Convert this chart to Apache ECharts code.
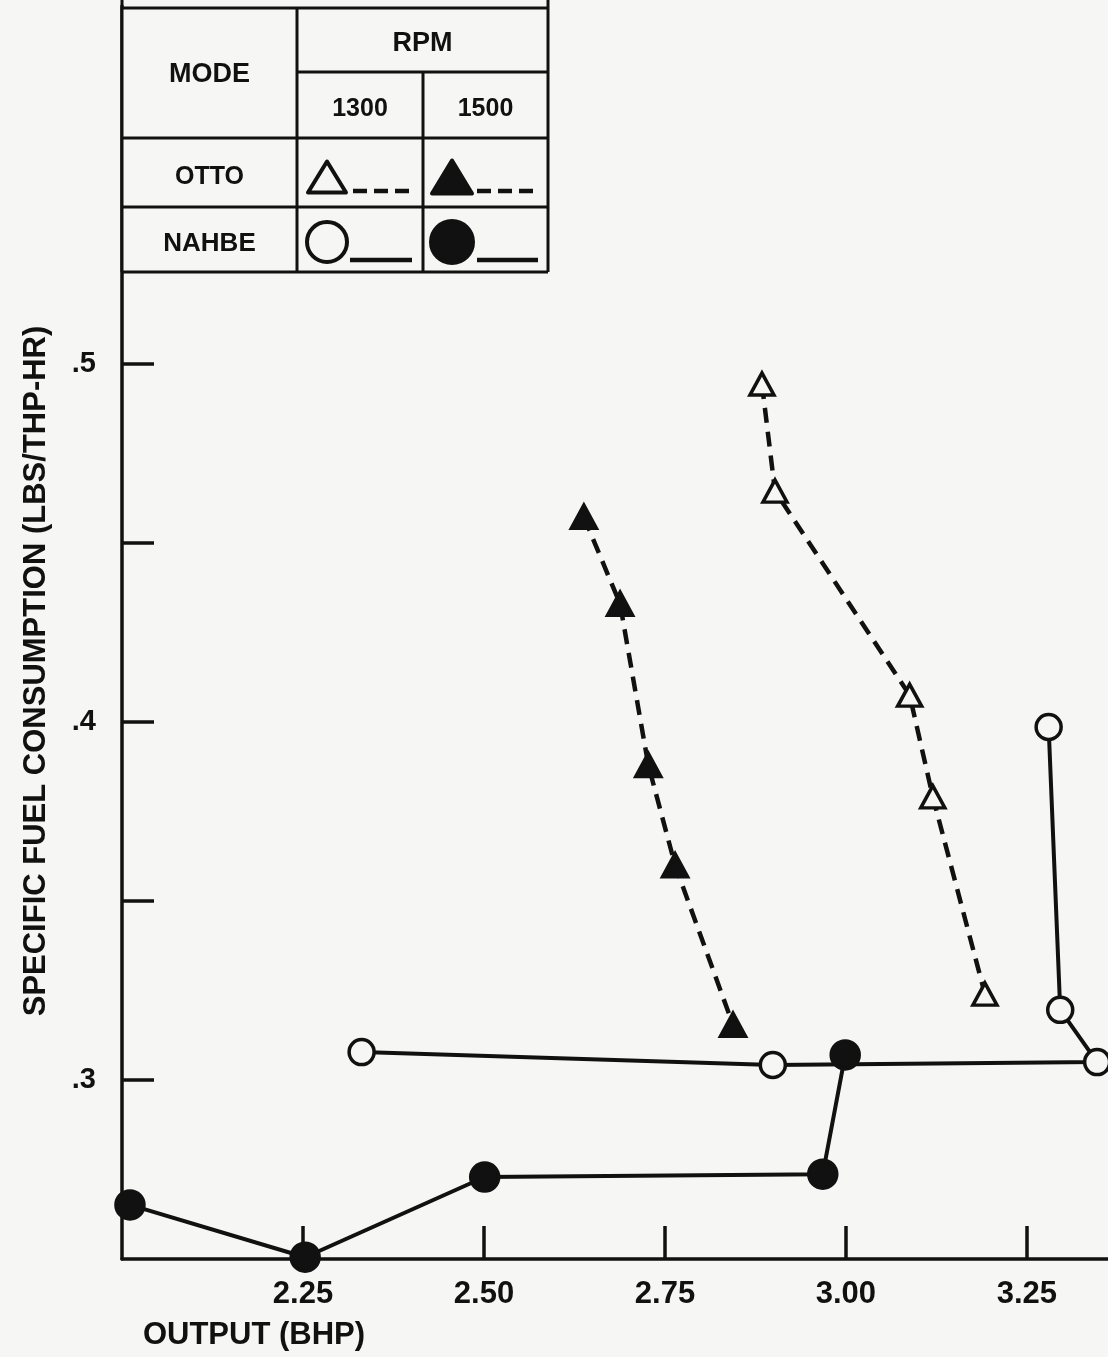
<!DOCTYPE html>
<html>
<head>
<meta charset="utf-8">
<script src="https://cdn.jsdelivr.net/npm/echarts@6/dist/echarts.min.js"></script>
<style>
  html, body { margin: 0; padding: 0; background: #f6f6f4; }
  #chart { width: 1108px; height: 1357px; }
</style>
</head>
<body>
<div id="chart"></div>
<script>
// ---- Data ----
const otto1300X = [2.884, 2.902, 3.088, 3.120, 3.192];
const otto1300Y = [0.4944, 0.4645, 0.4075, 0.3791, 0.3240];

const otto1500X = [2.638, 2.688, 2.727, 2.764, 2.844];
const otto1500Y = [0.4573, 0.4330, 0.3880, 0.3600, 0.3154];

const nahbe1300X = [2.331, 2.899, 3.347, 3.296, 3.280];
const nahbe1300Y = [0.3078, 0.3042, 0.3050, 0.3196, 0.3986];

const nahbe1500X = [2.011, 2.253, 2.501, 2.968, 2.999];
const nahbe1500Y = [0.2651, 0.2505, 0.2729, 0.2737, 0.3070];

const xTickValues = [2.25, 2.50, 2.75, 3.00, 3.25];
const xTickLabels = ['2.25', '2.50', '2.75', '3.00', '3.25'];
const yTickValues = [0.30, 0.35, 0.40, 0.45, 0.50];
const yLabelValues = [0.3, 0.4, 0.5];
const yTickLabels = ['.3', '.4', '.5'];

const xTitle = 'OUTPUT (BHP)';
const yTitle = 'SPECIFIC FUEL CONSUMPTION (LBS/THP-HR)';

const legendModeHeader = 'MODE';
const legendRpmHeader = 'RPM';
const legendRpms = ['1300', '1500'];
const legendModes = ['OTTO', 'NAHBE'];

// ---- helpers ----
const zip = (xs, ys) => xs.map((x, i) => [x, ys[i]]);
const INK = '#111111';
const BG = '#f6f6f4';
const FONT = '"Liberation Sans", Arial, Helvetica, sans-serif';

const chart = echarts.init(document.getElementById('chart'), null, { renderer: 'canvas' });

// Legend table geometry
const L = 122, C1 = 297, C2 = 423, R = 548;
const T = 8, H1 = 72, H2 = 138, H3 = 207, B = 272;
const lineEl = (x1, y1, x2, y2) => ({
  type: 'line', shape: { x1, y1, x2, y2 },
  style: { stroke: INK, lineWidth: 3 }, z: 101, silent: true
});
const textEl = (x, y, text, size) => ({
  type: 'text', x, y, z: 102, silent: true,
  style: { text, fill: INK, font: 'bold ' + size + 'px ' + FONT, textAlign: 'center', textVerticalAlign: 'middle' }
});
const tri = (cx, cy, w, h, filled) => ({
  type: 'polygon', z: 102, silent: true,
  shape: { points: [[cx, cy - h / 2], [cx + w / 2, cy + h / 2], [cx - w / 2, cy + h / 2]] },
  style: { fill: filled ? INK : BG, stroke: INK, lineWidth: 4, lineJoin: 'round' }
});
const circ = (cx, cy, r, filled) => ({
  type: 'circle', z: 102, silent: true, shape: { cx, cy, r },
  style: { fill: filled ? INK : BG, stroke: INK, lineWidth: 4 }
});
const seg = (x1, x2, y, dashed) => ({
  type: 'line', z: 102, silent: true, shape: { x1, y1: y, x2, y2: y },
  style: { stroke: INK, lineWidth: 4.5, lineDash: dashed ? [14, 7] : null }
});

const graphic = [
  { type: 'rect', shape: { x: L, y: T, width: R - L, height: B - T }, style: { fill: BG }, z: 100, silent: true },
  lineEl(L, 0, L, B), lineEl(R, 0, R, B),
  lineEl(L, T, R, T), lineEl(L, B, R, B),
  lineEl(C1, T, C1, B), lineEl(C1, H1, R, H1), lineEl(C2, H1, C2, B),
  lineEl(L, H2, R, H2), lineEl(L, H3, R, H3),
  textEl((L + C1) / 2, 75, legendModeHeader, 27),
  textEl((C1 + R) / 2, 44, legendRpmHeader, 27),
  textEl((C1 + C2) / 2, 109, legendRpms[0], 25),
  textEl((C2 + R) / 2, 109, legendRpms[1], 25),
  textEl((L + C1) / 2, 177, legendModes[0], 25),
  textEl((L + C1) / 2, 244, legendModes[1], 26),
  tri(327, 177, 38, 31, false), seg(353, 413, 191, true),
  tri(452, 177, 40, 33, true), seg(477, 538, 191, true),
  circ(327, 242, 20, false), seg(350, 412, 260, false),
  circ(452, 242, 21, true), seg(477, 538, 260, false),
  // axis titles
  { type: 'text', x: 36, y: 671, rotation: Math.PI / 2, z: 50, silent: true,
    style: { text: yTitle, fill: INK, font: 'bold 31px ' + FONT, textAlign: 'center', textVerticalAlign: 'middle' } },
  { type: 'text', x: 254, y: 1335, z: 50, silent: true,
    style: { text: xTitle, fill: INK, font: 'bold 31px ' + FONT, textAlign: 'center', textVerticalAlign: 'middle' } }
];

const baseSeries = (name, data, dashed, symbol, size, filled) => ({
  name, type: 'line', data, showAllSymbol: true, symbol, symbolSize: size,
  clip: true, silent: true,
  lineStyle: { color: INK, width: dashed ? 4.5 : 4, type: dashed ? [15, 9] : 'solid' },
  itemStyle: { color: filled ? INK : BG, borderColor: INK, borderWidth: 3.5 },
  emphasis: { disabled: true }
});

chart.setOption({
  backgroundColor: BG,
  animation: false,
  textStyle: { fontFamily: FONT },
  grid: { left: 122, top: 6, right: 0, bottom: 98, containLabel: false, outerBoundsMode: 'none' },
  xAxis: {
    type: 'value', min: 2.0, max: 3.362,
    axisLine: { show: true, lineStyle: { color: INK, width: 3.5 } },
    axisTick: { show: true, inside: true, length: 33, lineStyle: { color: INK, width: 3.5 }, customValues: xTickValues },
    axisLabel: { show: true, customValues: xTickValues, margin: 20, color: INK, fontSize: 31, fontWeight: 'bold', fontFamily: FONT,
      formatter: v => { const i = xTickValues.findIndex(t => Math.abs(t - v) < 1e-6); return i >= 0 ? xTickLabels[i] : ''; } },
    splitLine: { show: false }
  },
  yAxis: {
    type: 'value', min: 0.25, max: 0.6,
    axisLine: { show: true, lineStyle: { color: INK, width: 3.5 } },
    axisTick: { show: true, inside: true, length: 32, lineStyle: { color: INK, width: 3.5 }, customValues: yTickValues },
    axisLabel: { show: true, customValues: yLabelValues, margin: 26, color: INK, fontSize: 29, fontWeight: 'bold', fontFamily: FONT,
      formatter: v => { const i = yLabelValues.findIndex(t => Math.abs(t - v) < 1e-6); return i >= 0 ? yTickLabels[i] : ''; } },
    splitLine: { show: false }
  },
  series: [
    baseSeries('OTTO 1300', zip(otto1300X, otto1300Y), true, 'triangle', [24, 22], false),
    baseSeries('OTTO 1500', zip(otto1500X, otto1500Y), true, 'triangle', [25, 23], true),
    baseSeries('NAHBE 1300', zip(nahbe1300X, nahbe1300Y), false, 'circle', 25, false),
    baseSeries('NAHBE 1500', zip(nahbe1500X, nahbe1500Y), false, 'circle', 28, true)
  ],
  graphic
});
</script>
</body>
</html>
